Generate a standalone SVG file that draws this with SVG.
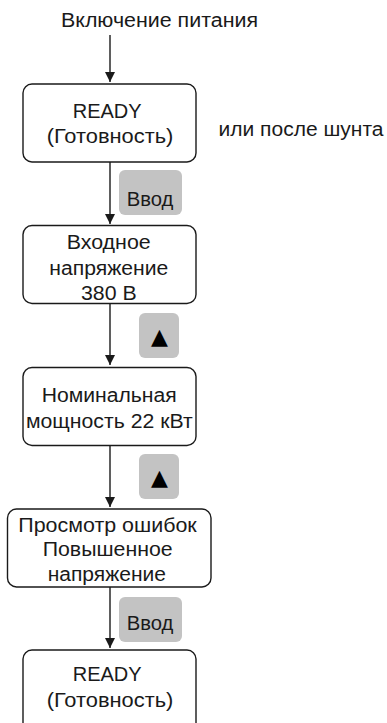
<svg xmlns="http://www.w3.org/2000/svg" width="387" height="723" viewBox="0 0 387 723">
<defs>
<style>
.t{font-family:"Liberation Sans",Arial,sans-serif;font-size:20px;fill:#1a1a1a;text-anchor:middle}
.box{fill:#fff;stroke:#1a1a1a;stroke-width:1.4}
.btn{fill:#c3c3c3;stroke:none}
.ln{stroke:#1a1a1a;stroke-width:1.4;fill:none}
.tri{font-family:"DejaVu Sans",sans-serif;font-size:22px;fill:#000;text-anchor:middle}
</style>
<marker id="ah" viewBox="0 0 10 10" refX="10" refY="5" markerWidth="10" markerHeight="10" markerUnits="userSpaceOnUse" orient="auto">
<path d="M0,0 L10,5 L0,10 Z" fill="#1a1a1a"/>
</marker>
</defs>
<rect width="387" height="723" fill="#fff"/>
<text class="t" x="159.5" y="27" textLength="197" lengthAdjust="spacingAndGlyphs">Включение питания</text>
<text class="t" x="301" y="136" textLength="165" lengthAdjust="spacingAndGlyphs">или после шунта</text>
<g id="connectors">
<line class="ln" x1="110" y1="35" x2="110" y2="82" marker-end="url(#ah)"/>
<line class="ln" x1="110" y1="162" x2="110" y2="224" marker-end="url(#ah)"/>
<line class="ln" x1="110" y1="303" x2="110" y2="365" marker-end="url(#ah)"/>
<line class="ln" x1="110" y1="445" x2="110" y2="507" marker-end="url(#ah)"/>
<line class="ln" x1="110" y1="587" x2="110" y2="648" marker-end="url(#ah)"/>
</g>
<g id="btn1"><rect class="btn" x="119" y="170" width="63" height="45" rx="6"/><text class="t" x="150" y="206" textLength="46.7" lengthAdjust="spacingAndGlyphs">Ввод</text></g>
<g id="btn2"><rect class="btn" x="139" y="313" width="40" height="45" rx="6"/><text class="tri" x="159.5" y="344">▲</text></g>
<g id="btn3"><rect class="btn" x="139" y="454" width="40" height="45" rx="6"/><text class="tri" x="159.5" y="485">▲</text></g>
<g id="btn4"><rect class="btn" x="119" y="597" width="63" height="45" rx="6"/><text class="t" x="150" y="630" textLength="46.7" lengthAdjust="spacingAndGlyphs">Ввод</text></g>
<g id="n1"><rect class="box" x="23" y="84" width="173" height="78" rx="9"/>
<text class="t" x="107.2" y="118">READY</text><text class="t" x="110" y="143" textLength="126.7" lengthAdjust="spacingAndGlyphs">(Готовность)</text></g>
<g id="n2"><rect class="box" x="23" y="225.5" width="173" height="78" rx="9"/>
<text class="t" x="108.7" y="249" textLength="84" lengthAdjust="spacingAndGlyphs">Входное</text><text class="t" x="108.8" y="275" textLength="119" lengthAdjust="spacingAndGlyphs">напряжение</text><text class="t" x="108.8" y="300" textLength="55.7" lengthAdjust="spacingAndGlyphs">380 В</text></g>
<g id="n3"><rect class="box" x="23" y="367.5" width="173" height="78" rx="9"/>
<text class="t" x="109.2" y="401.5" textLength="135" lengthAdjust="spacingAndGlyphs">Номинальная</text><text class="t" x="109.3" y="428" textLength="166.7" lengthAdjust="spacingAndGlyphs">мощность 22 кВт</text></g>
<g id="n4"><rect class="box" x="7.5" y="509" width="203.5" height="78" rx="9"/>
<text class="t" x="107.5" y="531.5" textLength="178.4" lengthAdjust="spacingAndGlyphs">Просмотр ошибок</text><text class="t" x="107.7" y="555.5" textLength="130" lengthAdjust="spacingAndGlyphs">Повышенное</text><text class="t" x="106.8" y="580.5" textLength="118.3" lengthAdjust="spacingAndGlyphs">напряжение</text></g>
<g id="n5"><rect class="box" x="23" y="650" width="173" height="90" rx="9"/>
<text class="t" x="107.2" y="681">READY</text><text class="t" x="110" y="706.5" textLength="126.7" lengthAdjust="spacingAndGlyphs">(Готовность)</text></g>
</svg>
